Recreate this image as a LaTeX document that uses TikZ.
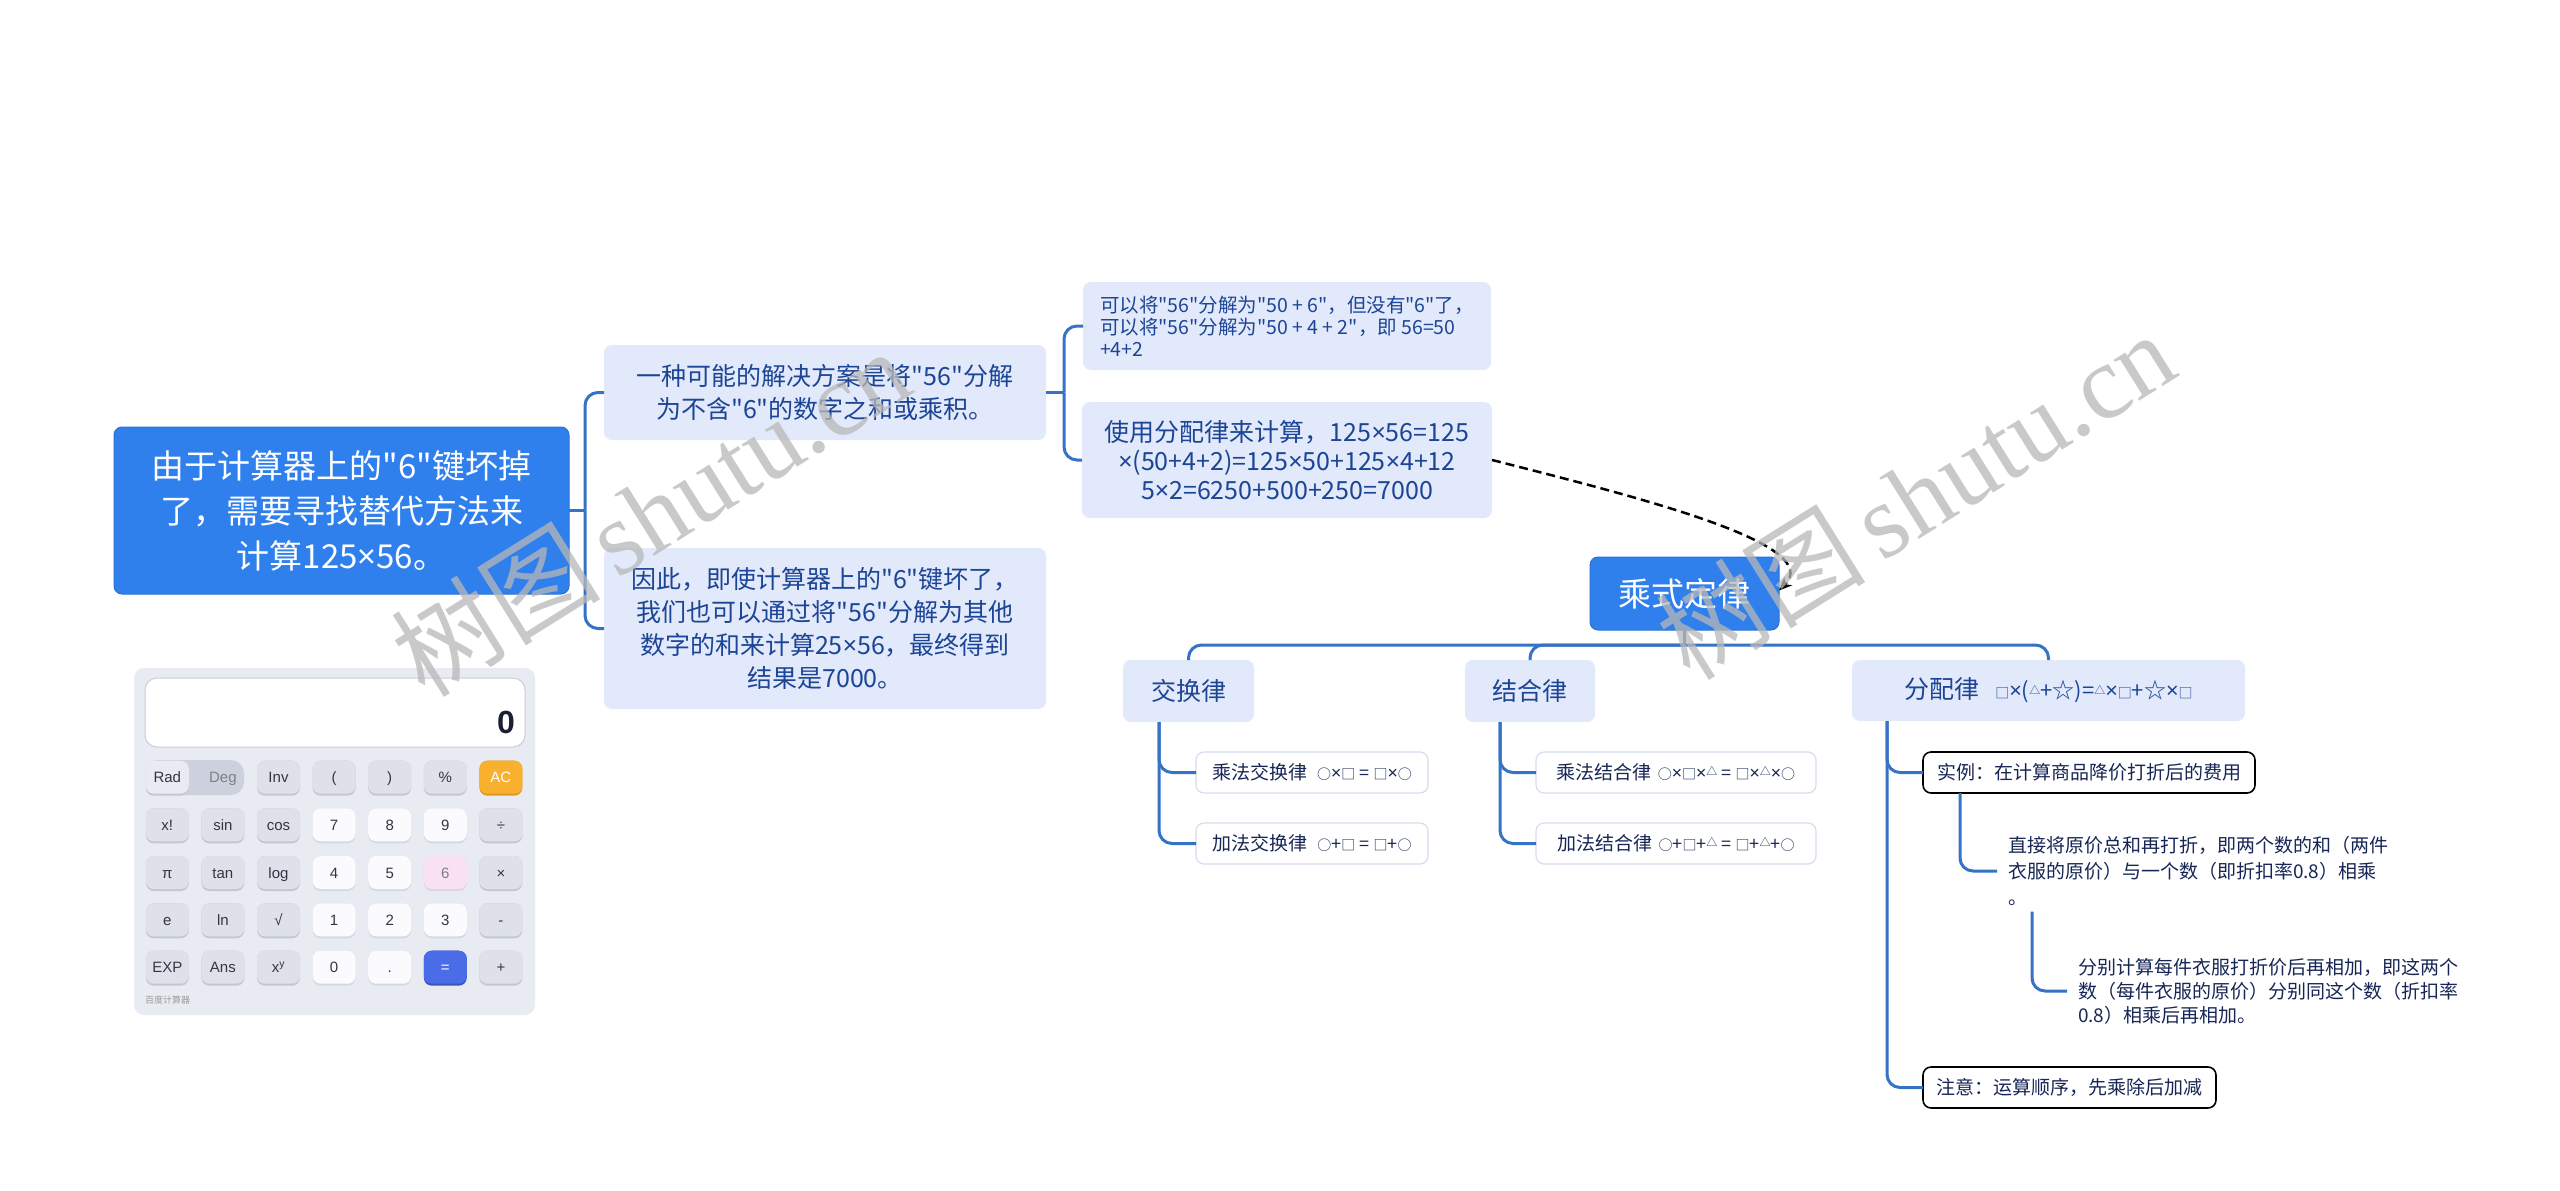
\documentclass[tikz,border=0pt]{standalone}
\usepackage{fontspec}
\setmainfont{Noto Sans CJK SC}
\newfontfamily\cjk{Noto Sans CJK SC}
\newfontfamily\latn{Noto Sans}
\newfontfamily\calcfont{Liberation Sans}
\newfontfamily\wmserif{Liberation Serif}
\usetikzlibrary{calc,arrows.meta}

\definecolor{rootblue}{HTML}{2F80ED}
\definecolor{rootedge}{HTML}{2A72D6}
\definecolor{midfill}{HTML}{E2E9FA}
\definecolor{midtext}{HTML}{1C4596}
\definecolor{leaftext}{HTML}{172655}
\definecolor{leafedge}{HTML}{D6DDEC}
\definecolor{connblue}{HTML}{3473C6}
\definecolor{calcbg}{HTML}{E8EBF2}
\definecolor{dispedge}{HTML}{C9CDD8}
\definecolor{dispnum}{HTML}{1A2033}
\definecolor{fkey}{HTML}{DEE1EA}
\definecolor{fshadow}{HTML}{C3C7D4}
\definecolor{nkey}{HTML}{FBFBFD}
\definecolor{nshadow}{HTML}{D6D9E2}
\definecolor{ackey}{HTML}{F9B02F}
\definecolor{acshadow}{HTML}{E09A20}
\definecolor{eqkey}{HTML}{4A6CE6}
\definecolor{eqshadow}{HTML}{3A55C0}
\definecolor{sixkey}{HTML}{F8E1F3}
\definecolor{togglebg}{HTML}{CDD1DE}
\definecolor{keytext}{HTML}{333640}
\definecolor{wmgray}{HTML}{B8B8B8}

\newcommand\fs[2]{\cjk\fontsize{#1}{#2}\selectfont}
\newcommand\tms{{\latn ×}}
\newcommand\ssq{{\fontsize{14}{14}\selectfont □}}
\newcommand\scir{{\fontsize{14}{14}\selectfont ○}}
\newcommand\stri{\raisebox{4pt}{\fontsize{11}{11}\selectfont △}}
\newcommand\calckey[7]{%
  \fill[#5, rounded corners=8pt] (#2-21.5,#3-16) rectangle (#2+21.5,#3+19);
  \node[fill=#4, rounded corners=8pt, minimum width=43pt, minimum height=33pt,
        text=#6, font=\fs{15}{15}\calcfont, text height=11pt, text depth=0pt] (#1) at (#2,#3+0.5) {#7};}

\begin{document}
\begin{tikzpicture}[x=1pt,y=-1pt, every node/.style={inner sep=0pt, outer sep=0pt},
  rootbox/.style={fill=rootblue, draw=rootedge, line width=1pt, rounded corners=8pt,
                  text=white, align=center, font=\fs{33}{45}},
  midbox/.style={fill=midfill, rounded corners=8pt, text=midtext, align=center},
  leafbox/.style={fill=white, draw=leafedge, line width=1.2pt, rounded corners=8pt,
                  text=leaftext, font=\fs{19}{24}},
  blkbox/.style={fill=white, draw=black, line width=1.6pt, rounded corners=8pt,
                 text=leaftext, font=\fs{19}{24}},
  plain/.style={text=leaftext, align=left, anchor=west, inner xsep=11pt, inner ysep=6pt},
  conn/.style={draw=connblue, line width=3pt, rounded corners=13pt}]
\useasboundingbox[fill=white] (0,0) rectangle (2560,1191);

% ---------- left part ----------
\node[rootbox, minimum width=455pt, minimum height=167pt] (root) at (341.5,510.5)
  {由于计算器上的"6"键坏掉\\了，需要寻找替代方法来\\计算125\tms 56。};

\node[midbox, font=\fs{25}{33}, minimum width=442pt, minimum height=95pt] (b1) at (825,392.5)
  {一种可能的解决方案是将"56"分解\\为不含"6"的数字之和或乘积。};
\node[midbox, font=\fs{25}{33}, minimum width=442pt, minimum height=161pt] (b2) at (825,628.5)
  {因此，即使计算器上的"6"键坏了，\\我们也可以通过将"56"分解为其他\\数字的和来计算25\tms 56，最终得到\\结果是7000。};

\node[midbox, font=\fs{19.5}{22}, align=left, minimum width=408pt, minimum height=88pt] (b3) at (1287,326)
  {可以将"56"分解为"50 + 6"，但没有"6"了，\\可以将"56"分解为"50 + 4 + 2"，即 56=50\\+4+2};
\node[midbox, font=\fs{25}{29}, minimum width=410pt, minimum height=116pt] (b4) at (1287,460)
  {使用分配律来计算，125\tms 56=125\\\tms(50+4+2)=125\tms 50+125\tms 4+12\\5\tms 2=6250+500+250=7000};

\coordinate (j1) at (585,510.5);
\draw[conn] (root.east) -- (j1);
\draw[conn] (j1) |- (b1.west);
\draw[conn] (j1) |- (b2.west);
\coordinate (j2) at (1064,392.5);
\draw[conn] (b1.east) -- (j2);
\draw[conn] (j2) |- (b3.west);
\draw[conn] (j2) |- (b4.west);

% ---------- right part ----------
\node[rootbox, minimum width=189pt, minimum height=73pt] (m) at (1684.5,593.5) {乘式定律};

\node[midbox, font=\fs{25}{30}, minimum width=131pt, minimum height=62pt] (k1) at (1188.5,691) {交换律};
\node[midbox, font=\fs{25}{30}, minimum width=130pt, minimum height=62pt] (k2) at (1530,691) {结合律};
\node[midbox, font=\fs{25}{30}, minimum width=393pt, minimum height=61pt] (k3) at (2048.5,690.5)
  {分配律\hspace{16pt}{\fs{22}{22}\ssq\tms(\stri+☆)=\stri\tms\ssq+☆\tms\ssq}};

\coordinate (j3) at (1684.5,645);
\draw[conn] (m.south) -- (j3);
\draw[conn] (j3) -| (k1.north);
\draw[conn] (j3) -| (k2.north);
\draw[conn] (j3) -| (k3.north);

\node[leafbox, minimum width=232pt, minimum height=41pt] (l1) at (1312,772.5)
  {乘法交换律\hspace{10pt}{\fs{18}{18}\scir\tms\ssq\ =\ \ssq\tms\scir}};
\node[leafbox, minimum width=232pt, minimum height=41pt] (l2) at (1312,843.5)
  {加法交换律\hspace{10pt}{\fs{18}{18}\scir+\ssq\ =\ \ssq+\scir}};
\node[leafbox, minimum width=280pt, minimum height=41pt] (l3) at (1676,772.5)
  {乘法结合律\hspace{6pt}{\fs{18}{18}\scir\tms\ssq\tms\stri\ =\ \ssq\tms\stri\tms\scir}};
\node[leafbox, minimum width=280pt, minimum height=41pt] (l4) at (1676,843.5)
  {加法结合律\hspace{6pt}{\fs{18}{18}\scir+\ssq+\stri\ =\ \ssq+\stri+\scir}};

\coordinate (c1) at ($(k1.south west)+(36,0)$);
\draw[conn] (c1) |- (l1.west);
\draw[conn] (c1) |- (l2.west);
\coordinate (c2) at ($(k2.south west)+(35,0)$);
\draw[conn] (c2) |- (l3.west);
\draw[conn] (c2) |- (l4.west);

\node[blkbox, minimum width=332pt, minimum height=41pt] (s1) at (2089,772.5) {实例：在计算商品降价打折后的费用};
\node[blkbox, minimum width=293pt, minimum height=41pt] (n1) at (2069.5,1087.5) {注意：运算顺序，先乘除后加减};

\node[plain, font=\fs{19}{26}] (d1) at (1997,871)
  {直接将原价总和再打折，即两个数的和（两件\\衣服的原价）与一个数（即折扣率0.8）相乘\\。};
\node[plain, font=\fs{19}{24}] (d2) at (2067,991)
  {分别计算每件衣服打折价后再相加，即这两个\\数（每件衣服的原价）分别同这个数（折扣率\\0.8）相乘后再相加。};

\coordinate (c3) at ($(k3.south west)+(35,0)$);
\draw[conn] (c3) |- (s1.west);
\draw[conn] (c3) |- (n1.west);
\coordinate (c4) at ($(s1.south west)+(37,0)$);
\draw[conn] (c4) |- (d1.west);
\coordinate (c5) at ($(d1.south west)+(35,0)$);
\draw[conn] (c5) |- (d2.west);

% dashed relation
\draw[black, line width=2.5pt, dash pattern=on 9pt off 5pt, -{Stealth[length=13pt,width=11pt]}]
  (b4.east) .. controls (1650,500) and (1825,545) .. ($(m.east)+(0,-3)$);

% ---------- calculator ----------
\node[fill=calcbg, rounded corners=10pt, minimum width=401pt, minimum height=347pt] (calc) at (334.5,841.5) {};
\node[fill=white, draw=dispedge, line width=1pt, rounded corners=12pt, minimum width=380pt, minimum height=69pt] (disp) at (335,712.5) {};
\node[font=\fs{32}{32}\calcfont\bfseries, text=dispnum, anchor=east] (zero) at (515,722) {0};

\fill[togglebg, rounded corners=13pt] (146,760) rectangle (244,795);
\calckey{kRad}{167.3}{776.7}{nkey!40!fkey}{fshadow}{keytext}{Rad}
\node[font=\fs{15}{15}\calcfont, text=gray, text height=11pt, text depth=0pt] (kDeg) at (222.9,777.2) {Deg};
\calckey{kInv}{278.5}{776.7}{fkey}{fshadow}{keytext}{Inv}
\calckey{kLp}{334.1}{776.7}{fkey}{fshadow}{keytext}{(}
\calckey{kRp}{389.7}{776.7}{fkey}{fshadow}{keytext}{)}
\calckey{kPc}{445.3}{776.7}{fkey}{fshadow}{keytext}{\%}
\calckey{kAC}{500.9}{776.7}{ackey}{acshadow}{white}{AC}

\calckey{kFac}{167.3}{824.3}{fkey}{fshadow}{keytext}{x!}
\calckey{kSin}{222.9}{824.3}{fkey}{fshadow}{keytext}{sin}
\calckey{kCos}{278.5}{824.3}{fkey}{fshadow}{keytext}{cos}
\calckey{kSeven}{334.1}{824.3}{nkey}{nshadow}{keytext}{7}
\calckey{kEight}{389.7}{824.3}{nkey}{nshadow}{keytext}{8}
\calckey{kNine}{445.3}{824.3}{nkey}{nshadow}{keytext}{9}
\calckey{kDiv}{500.9}{824.3}{fkey}{fshadow}{keytext}{÷}

\calckey{kPi}{167.3}{872}{fkey}{fshadow}{keytext}{π}
\calckey{kTan}{222.9}{872}{fkey}{fshadow}{keytext}{tan}
\calckey{kLog}{278.5}{872}{fkey}{fshadow}{keytext}{log}
\calckey{kFour}{334.1}{872}{nkey}{nshadow}{keytext}{4}
\calckey{kFive}{389.7}{872}{nkey}{nshadow}{keytext}{5}
\calckey{kSix}{445.3}{872}{sixkey}{nshadow}{gray}{6}
\calckey{kMul}{500.9}{872}{fkey}{fshadow}{keytext}{×}

\calckey{kE}{167.3}{919.3}{fkey}{fshadow}{keytext}{e}
\calckey{kLn}{222.9}{919.3}{fkey}{fshadow}{keytext}{ln}
\calckey{kSqrt}{278.5}{919.3}{fkey}{fshadow}{keytext}{√}
\calckey{kOne}{334.1}{919.3}{nkey}{nshadow}{keytext}{1}
\calckey{kTwo}{389.7}{919.3}{nkey}{nshadow}{keytext}{2}
\calckey{kThree}{445.3}{919.3}{nkey}{nshadow}{keytext}{3}
\calckey{kMinus}{500.9}{919.3}{fkey}{fshadow}{keytext}{-}

\calckey{kExp}{167.3}{966.7}{fkey}{fshadow}{keytext}{EXP}
\calckey{kAns}{222.9}{966.7}{fkey}{fshadow}{keytext}{Ans}
\calckey{kPow}{278.5}{966.7}{fkey}{fshadow}{keytext}{x\textsuperscript{y}}
\calckey{kZero}{334.1}{966.7}{nkey}{nshadow}{keytext}{0}
\calckey{kDot}{389.7}{966.7}{nkey}{nshadow}{keytext}{.}
\calckey{kEq}{445.3}{966.7}{eqkey}{eqshadow}{white}{=}
\calckey{kPlus}{500.9}{966.7}{fkey}{fshadow}{keytext}{+}

\node[anchor=west, font=\fs{9}{9}, text=gray!80] (brand) at (145,1000) {百度计算器};

% ---------- watermarks ----------
\node[rotate=32, text=wmgray, opacity=0.75, font=\fs{105}{105}] (wm1) at (650,512) {树图\,{\wmserif shutu.cn}};
\node[rotate=32, text=wmgray, opacity=0.75, font=\fs{105}{105}] (wm2) at (1915,495) {树图\,{\wmserif shutu.cn}};
\end{tikzpicture}
\end{document}
